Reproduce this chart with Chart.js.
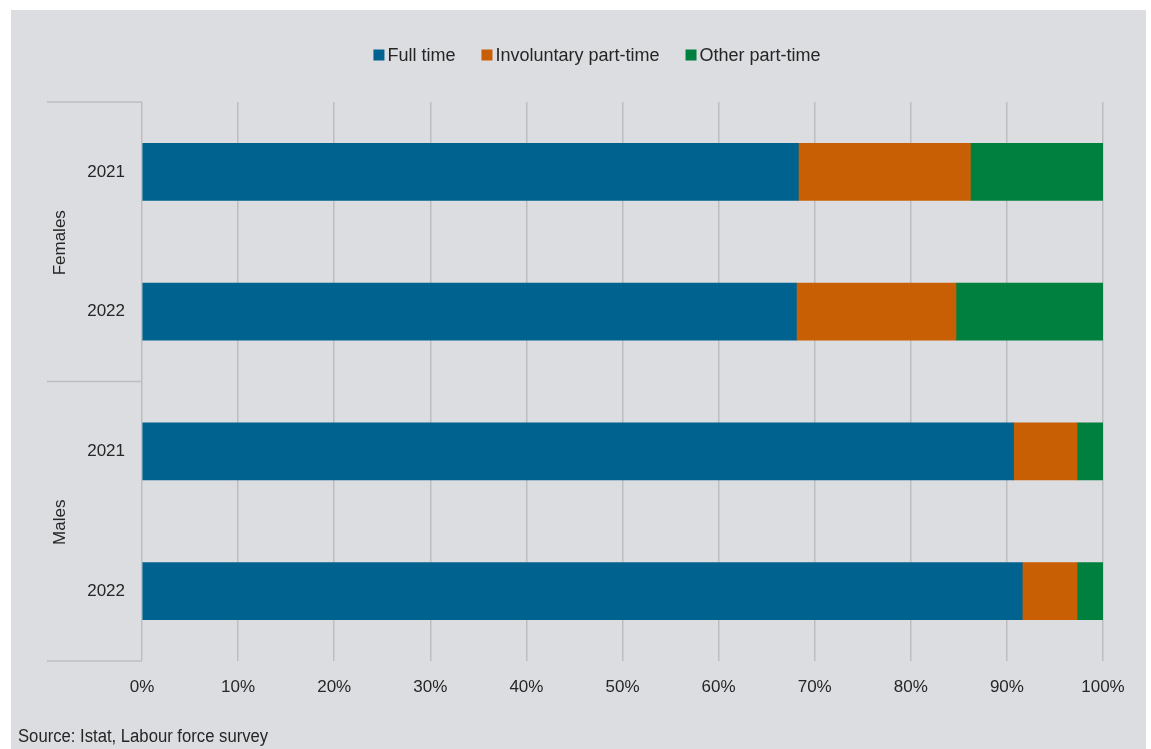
<!DOCTYPE html>
<html>
<head>
<meta charset="utf-8">
<script src="https://cdn.jsdelivr.net/npm/chart.js@4/dist/chart.umd.min.js"></script>
<style>
    html, body { margin: 0; padding: 0; background: #ffffff; }
    #panel {
        position: absolute;
        left: 11px;
        top: 10px;
        width: 1135px;
        height: 739px;
        background: #dcdde0;
    }
    #chartWrap { position: absolute; left: 0; top: 0; width: 1135px; height: 739px; }
    #source {
        position: absolute;
        left: 7px;
        top: 716px;
        font-family: 'Liberation Sans', Arial, sans-serif;
        font-size: 18px;
        color: #262626;
        white-space: nowrap;
        transform: scaleX(0.926);
        transform-origin: left center;
    }
</style>
</head>
<body>
<div id="panel">
    <div id="chartWrap"><canvas id="laborChart"></canvas></div>
    <div id="source">Source: Istat, Labour force survey</div>
</div>
<script>
(function () {
    var categories = ['2021', '2022', '2021', '2022'];
    var groupLabels = ['Females', 'Males'];
    var groupSizes = [2, 2];

    var fullTime = [68.3, 68.1, 90.7, 91.6];
    var involuntaryPartTime = [17.9, 16.6, 6.6, 5.7];
    var otherPartTime = [13.8, 15.3, 2.7, 2.7];

    var seriesLabels = ['Full time', 'Involuntary part-time', 'Other part-time'];
    var seriesColors = ['#00628f', '#c95f04', '#00803e'];

    var font = "'Liberation Sans', Arial, sans-serif";
    var textColor = '#262626';
    var gridColor = '#bdbec0';

    // legend row drawn above the plot, small gap between box and text
    var legendRow = {
        id: 'legendRow',
        afterDraw: function (chart) {
            var ctx = chart.ctx;
            var box = 11, gap = 3, spacing = 26, y = 45;
            ctx.save();
            ctx.font = '18px ' + font;
            ctx.textBaseline = 'middle';
            var widths = chart.data.datasets.map(function (ds) {
                return box + gap + ctx.measureText(ds.label).width;
            });
            var total = widths.reduce(function (a, b) { return a + b; }, 0) + spacing * (widths.length - 1);
            var x = 586 - total / 2;
            chart.data.datasets.forEach(function (ds, i) {
                ctx.fillStyle = ds.backgroundColor;
                ctx.fillRect(x, y - box / 2, box, box);
                ctx.fillStyle = textColor;
                ctx.fillText(ds.label, x + box + gap, y + 1);
                x += widths[i] + spacing;
            });
            ctx.restore();
        }
    };

    // group labels and separators on the category axis
    var groupAxis = {
        id: 'groupAxis',
        afterDraw: function (chart) {
            var ctx = chart.ctx;
            var area = chart.chartArea;
            var band = (area.bottom - area.top) / categories.length;
            var lineLeft = 36;
            ctx.save();
            ctx.strokeStyle = gridColor;
            ctx.lineWidth = 1.5;
            var start = 0;
            var edges = [area.top];
            groupSizes.forEach(function (size) {
                start += size;
                edges.push(area.top + band * start);
            });
            edges.forEach(function (yy) {
                ctx.beginPath();
                ctx.moveTo(lineLeft, yy);
                ctx.lineTo(area.left, yy);
                ctx.stroke();
            });
            ctx.fillStyle = textColor;
            ctx.font = '17px ' + font;
            ctx.textAlign = 'center';
            ctx.textBaseline = 'middle';
            groupLabels.forEach(function (label, i) {
                var mid = (edges[i] + edges[i + 1]) / 2;
                ctx.save();
                ctx.translate(49, mid + 1);
                ctx.rotate(-Math.PI / 2);
                ctx.fillText(label, 0, 0);
                ctx.restore();
            });
            ctx.restore();
        }
    };

    var canvas = document.getElementById('laborChart');

    new Chart(canvas.getContext('2d'), {
        type: 'bar',
        data: {
            labels: categories,
            datasets: [
                { label: seriesLabels[0], data: fullTime, backgroundColor: seriesColors[0] },
                { label: seriesLabels[1], data: involuntaryPartTime, backgroundColor: seriesColors[1] },
                { label: seriesLabels[2], data: otherPartTime, backgroundColor: seriesColors[2] }
            ]
        },
        options: {
            indexAxis: 'y',
            responsive: true,
            maintainAspectRatio: false,
            animation: false,
            layout: { padding: { top: 92, bottom: 48, left: 0, right: 43 } },
            datasets: {
                bar: { barThickness: 57, borderWidth: 0 }
            },
            plugins: {
                legend: { display: false },
                tooltip: { enabled: true }
            },
            scales: {
                x: {
                    stacked: true,
                    min: 0,
                    max: 100,
                    border: { display: false },
                    grid: { color: gridColor, lineWidth: 1.5, drawTicks: false },
                    ticks: {
                        stepSize: 10,
                        padding: 16,
                        color: textColor,
                        font: { family: font, size: 17 },
                        callback: function (value) { return value + '%'; }
                    },
                    afterFit: function (scale) { scale.height = 40; }
                },
                y: {
                    stacked: true,
                    border: { display: false },
                    grid: { display: false, drawTicks: false },
                    ticks: {
                        padding: 17,
                        color: textColor,
                        font: { family: font, size: 17 }
                    },
                    afterFit: function (scale) { scale.width = 131; }
                }
            }
        },
        plugins: [legendRow, groupAxis]
    });
})();
</script>
</body>
</html>
